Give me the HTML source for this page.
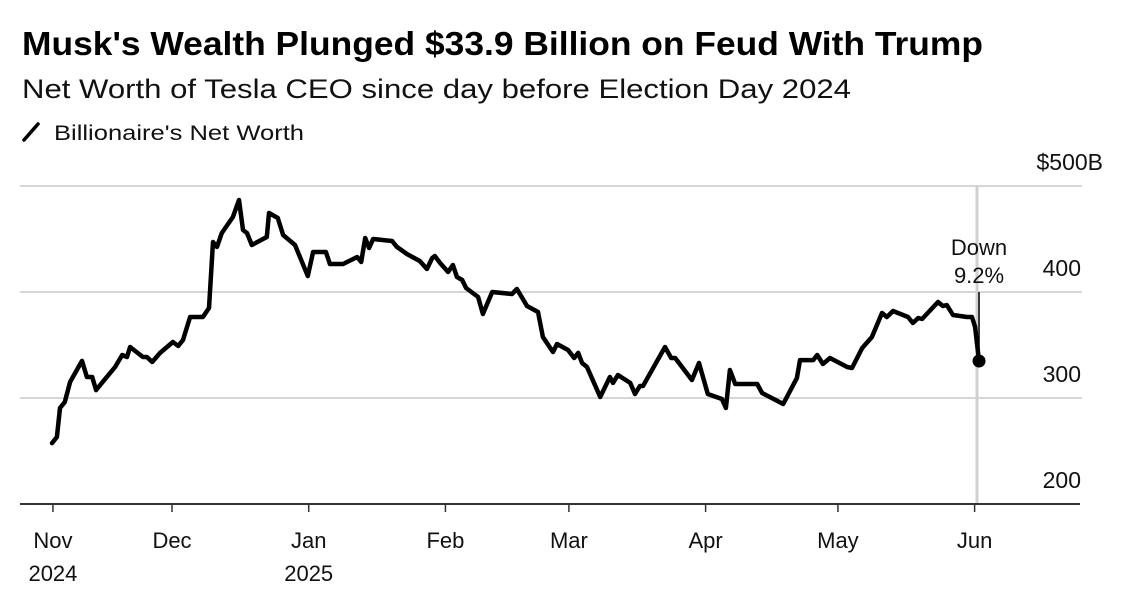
<!DOCTYPE html>
<html><head><meta charset="utf-8"><style>
html,body{margin:0;padding:0;background:#fff;}
svg{display:block;font-family:"Liberation Sans",Arial,sans-serif;}
</style></head><body>
<svg id="chart" width="1125" height="604" viewBox="0 0 1125 604" xmlns="http://www.w3.org/2000/svg">
<text x="22" y="55" font-size="33" font-weight="bold" fill="#000" textLength="961" lengthAdjust="spacingAndGlyphs">Musk's Wealth Plunged $33.9 Billion on Feud With Trump</text>
<text x="22" y="98" font-size="27" fill="#111" textLength="829" lengthAdjust="spacingAndGlyphs">Net Worth of Tesla CEO since day before Election Day 2024</text>
<g>
<line x1="24" y1="140" x2="38" y2="124" stroke="#000" stroke-width="3.5" stroke-linecap="round"/>
<text x="54" y="140" font-size="21" fill="#111" textLength="250" lengthAdjust="spacingAndGlyphs">Billionaire's Net Worth</text>
</g>
<g id="grid"></g>
<g id="xaxis"></g>
<g id="marks"></g>
</svg>
<script>
// day offsets from Nov 1, 2024
const days = [2.8,3.9,4.6,5.7,6.9,9.6,10.7,11.9,12.8,14.1,17.1,18.7,19.8,20.5,23.4,24.3,25.5,27.3,30.2,31.4,32.5,34.1,37.0,38.4,39.3,40.2,41.3,43.8,45.2,46.1,47.0,48.1,51.5,52.0,54.0,55.2,57.9,60.8,62.0,64.9,65.8,68.8,72.0,72.9,73.8,74.7,75.6,79.9,81.0,83.3,86.2,87.8,89.0,89.6,90.8,92.6,93.7,94.6,95.8,96.7,99.4,100.5,102.6,107.1,108.2,110.5,113.0,114.1,116.4,117.3,119.8,121.2,122.1,123.0,124.1,127.1,129.3,130.0,131.1,133.9,135.0,136.1,136.8,141.8,143.2,144.1,147.9,149.5,151.5,154.7,155.6,156.5,157.7,162.7,163.8,168.6,171.7,172.4,175.4,176.3,177.6,179.2,183.1,184.2,186.5,188.7,191.0,192.1,193.5,196.9,198.0,199.2,200.1,203.7,204.8,205.7,207.1,210.3,211.4,212.1,213.0];
// net worth, $B
const worth = [257.5,263.2,290.6,296.2,315.1,335.0,319.8,319.8,307.5,314.2,329.2,340.6,338.7,348.1,338.7,338.7,334.0,342.5,352.8,349.1,354.7,376.4,376.4,384.9,447.2,442.5,455.7,470.8,486.8,458.5,455.7,444.3,451.9,474.5,469.8,453.8,444.3,415.1,437.7,437.7,426.4,426.4,433.0,428.3,450.9,441.5,450.0,448.1,442.5,435.8,429.2,421.7,432.1,434.0,427.4,418.9,425.5,414.2,411.3,403.8,395.3,379.2,400.0,398.1,402.8,386.8,381.1,357.5,343.4,350.9,345.3,337.7,342.5,333.0,329.2,300.9,319.8,314.2,321.7,314.2,303.8,311.3,311.3,348.1,337.7,337.7,317.0,333.0,303.8,299.1,290.6,326.4,313.2,313.2,304.7,294.3,318.9,335.8,335.8,340.6,332.1,337.7,329.2,328.3,347.2,357.5,380.2,376.4,382.1,376.4,370.8,375.5,374.5,390.6,386.8,387.7,378.3,376.4,376.4,367.0,334.9];
const yTicks = [500,400,300,200];
const yTickLabels = ["$500B","400","300","200"];
const monthTicks = [3,30,61,92,120,151,181,212];
const monthLabels = ["Nov","Dec","Jan","Feb","Mar","Apr","May","Jun"];
const yearLabels = ["2024","","2025","","","","",""];
const annotationLines = ["Down","9.2%"];

const NS = "http://www.w3.org/2000/svg";
const xS = d => 172 + (d - 30) * 4.41;
const yS = v => 504 - (v - 200) * 1.06;
function mk(tag, attrs, parent){ const e=document.createElementNS(NS,tag); for(const k in attrs) e.setAttribute(k,attrs[k]); parent.appendChild(e); return e; }
const grid=document.getElementById('grid'), xaxis=document.getElementById('xaxis'), marks=document.getElementById('marks');

yTicks.forEach((t,i)=>{
  if(t>200){
    const g = mk('line',{x1:20,x2:1082,y1:yS(t),y2:yS(t),stroke:'#d6d6d6','stroke-width':2},grid);
    
    
  }
  const lab = mk('text',{x: i===0?1103:1081, y: yS(t)-16, 'text-anchor':'end','font-size':23, fill:'#111'},grid);
  lab.textContent = yTickLabels[i];
  
  
});

// highlight vertical line at last point
const lastX = xS(days[days.length-1]), lastY = yS(worth[worth.length-1]);
const vl = mk('line',{x1:lastX-2,x2:lastX-2,y1:186,y2:504,stroke:'#d0d0d0','stroke-width':3},grid);



const ax = mk('line',{x1:20,x2:1080,y1:504,y2:504,stroke:'#333','stroke-width':2},xaxis);


monthTicks.forEach((d,i)=>{
  const x=xS(d);
  const tk = mk('line',{x1:x,x2:x,y1:504,y2:512,stroke:'#333','stroke-width':1.5},xaxis);
  
  
  const t = mk('text',{x:x,y:548,'text-anchor':'middle','font-size':22,fill:'#111'},xaxis);
  t.textContent = monthLabels[i];
  
  
  if(yearLabels[i]){
    const yl = mk('text',{x:x,y:581,'text-anchor':'middle','font-size':22,fill:'#111'},xaxis);
    yl.textContent = yearLabels[i];
    
    
  }
});

const pts = days.map((d,i)=>xS(d).toFixed(1)+','+yS(worth[i]).toFixed(1)).join(' ');
const line = mk('polyline',{points:pts,fill:'none',stroke:'#000','stroke-width':4.5,'stroke-linejoin':'round','stroke-linecap':'round'},marks);



const lead = mk('line',{x1:lastX,x2:lastX,y1:292,y2:lastY,stroke:'#000','stroke-width':1.5},marks);


const dot = mk('circle',{cx:lastX,cy:lastY,r:6.5,fill:'#000'},marks);


annotationLines.forEach((s,i)=>{
  const a = mk('text',{x:lastX,y:255+i*28,'text-anchor':'middle','font-size':22,fill:'#111'},marks);
  a.textContent = s;
  
  
});
</script>
</body></html>
